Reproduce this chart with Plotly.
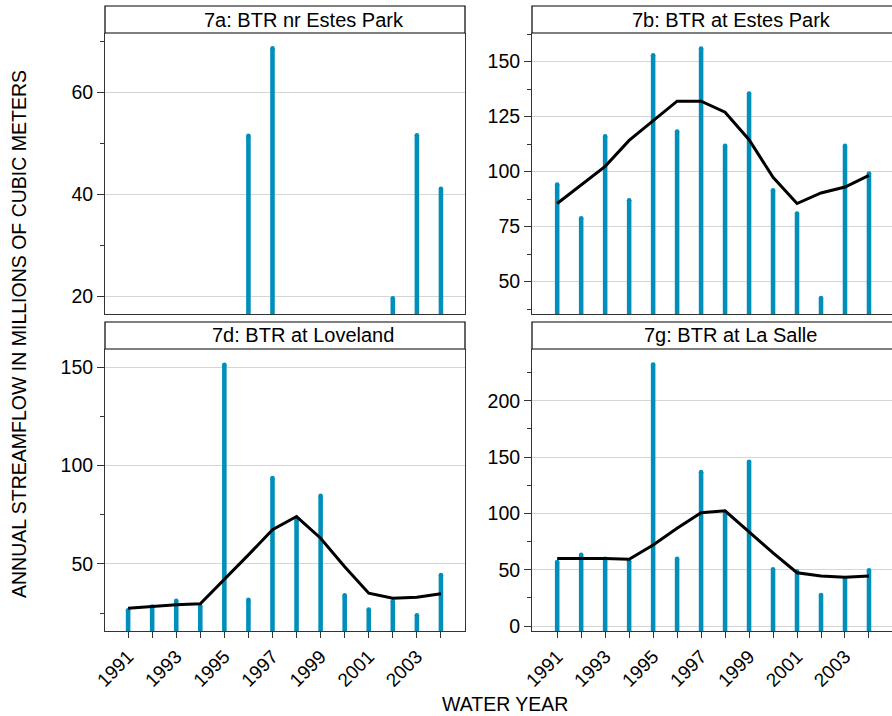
import plotly.graph_objects as go

# ---- data -------------------------------------------------------------
years = list(range(1991, 2005))
year_labels = [str(y) if y % 2 == 1 else "" for y in years]

panel_titles = ["7a: BTR nr Estes Park", "7b: BTR at Estes Park",
                "7d: BTR at Loveland", "7g: BTR at La Salle"]

flow_7a = [None, None, None, None, None, 51.5, 68.7,
           None, None, None, None, 19.6, 51.6, 41.1]

flow_7b = [94.1, 78.8, 116.0, 87.0, 152.9, 118.2, 155.9,
           111.7, 135.5, 91.5, 81.0, 42.6, 111.7, 99.1]
smooth_7b = [85.5, 93.8, 102.4, 114.2, 123.3, 132.0, 132.0,
             127.0, 114.5, 97.4, 85.5, 90.3, 93.0, 98.3]

flow_7d = [26.4, 28.3, 31.3, 28.6, 151.3, 31.8, 93.7,
           72.5, 84.7, 34.1, 26.8, 31.0, 23.9, 44.3]
smooth_7d = [27.5, 28.3, 29.3, 29.7, 41.9, 54.6, 67.4,
             74.1, 63.1, 48.6, 35.1, 32.6, 33.1, 34.8]

flow_7g = [56.8, 63.3, 59.7, 57.4, 232.2, 59.7, 136.6,
           101.2, 145.8, 50.3, 48.5, 27.5, 42.0, 49.4]
smooth_7g = [60.0, 60.0, 60.0, 59.2, 71.9, 86.7, 100.6,
             102.3, 83.7, 65.0, 47.3, 44.4, 43.2, 44.4]

# ---- layout constants (pixels) ---------------------------------------
W, H = 892, 716
FONT = "Liberation Sans, Arial, Helvetica, sans-serif"
BAR_COLOR = "#008fba"
AXIS_COLOR = "#333333"
GRID_COLOR = "#d6d6d6"


def px(x):
    return x / W


def py(y):
    return 1 - y / H


# each panel: x span, plot y span, strip top, x range, y range, major/minor dtick
panels = [
    dict(x=(105, 465), y=(33, 314), strip=6, xr=(1990.04, 2005.0),
         yr=(16.5, 71.7), dt=20, mdt=10, flow=flow_7a, smooth=None,
         title_x=303.5, right_edge=True, bottom=False),
    dict(x=(532, 892), y=(33, 314), strip=6, xr=(1989.95, 2004.96),
         yr=(35.3, 163.0), dt=25, mdt=12.5, flow=flow_7b, smooth=smooth_7b,
         title_x=731, right_edge=False, bottom=False),
    dict(x=(105, 465), y=(349, 631), strip=322, xr=(1990.04, 2005.0),
         yr=(15.9, 159.3), dt=50, mdt=25, flow=flow_7d, smooth=smooth_7d,
         title_x=303, right_edge=True, bottom=True),
    dict(x=(532, 892), y=(349, 631), strip=322, xr=(1989.95, 2004.96),
         yr=(-4.4, 245.9), dt=50, mdt=25, flow=flow_7g, smooth=smooth_7g,
         title_x=730, right_edge=False, bottom=True),
]

fig = go.Figure()
shapes = []
annotations = []

for i, (p, title) in enumerate(zip(panels, panel_titles), start=1):
    xa = "x" if i == 1 else f"x{i}"
    ya = "y" if i == 1 else f"y{i}"
    ymin = p["yr"][0]

    ys = [v for v in p["flow"]]
    fig.add_trace(go.Bar(
        x=years, y=[None if v is None else v - ymin for v in ys],
        base=ymin, width=0.19, marker=dict(color=BAR_COLOR, line=dict(width=0)),
        xaxis=xa, yaxis=ya, hoverinfo="skip", showlegend=False))
    # rounded tops on the spikes
    fig.add_trace(go.Scatter(
        x=years, y=ys, mode="markers",
        marker=dict(color=BAR_COLOR, size=4.6, line=dict(width=0)),
        xaxis=xa, yaxis=ya, hoverinfo="skip", showlegend=False))
    if p["smooth"] is not None:
        fig.add_trace(go.Scatter(
            x=years, y=p["smooth"], mode="lines",
            line=dict(color="black", width=3),
            xaxis=xa, yaxis=ya, hoverinfo="skip", showlegend=False))

    xkey = "xaxis" if i == 1 else f"xaxis{i}"
    ykey = "yaxis" if i == 1 else f"yaxis{i}"
    x_dom = [px(p["x"][0]), px(p["x"][1])]
    y_dom = [py(p["y"][1]), py(p["y"][0])]

    xaxis = dict(domain=x_dom, range=list(p["xr"]), anchor=ya,
                 automargin=False,
                 showgrid=False, zeroline=False, showline=True,
                 linecolor=AXIS_COLOR, linewidth=1, mirror=False,
                 fixedrange=True)
    if p["bottom"]:
        xaxis.update(tickmode="array", tickvals=years, ticktext=year_labels,
                     ticks="outside", ticklen=6, tickcolor=AXIS_COLOR,
                     tickangle=-45,
                     tickfont=dict(family=FONT, size=19, color="black"))
    else:
        xaxis.update(showticklabels=False, ticks="")
    fig.update_layout({xkey: xaxis})

    yaxis = dict(domain=y_dom, range=list(p["yr"]), anchor=xa,
                 automargin=False,
                 tickmode="linear", tick0=0, dtick=p["dt"],
                 ticks="outside", ticklen=7, tickcolor=AXIS_COLOR,
                 showgrid=True, gridcolor=GRID_COLOR, gridwidth=1,
                 zeroline=False, showline=True, linecolor=AXIS_COLOR,
                 linewidth=1, mirror=p["right_edge"],
                 tickfont=dict(family=FONT, size=19.5, color="black"),
                 minor=dict(tickmode="linear", tick0=0, dtick=p["mdt"],
                            ticks="outside", ticklen=4,
                            tickcolor=AXIS_COLOR, showgrid=False),
                 fixedrange=True)
    fig.update_layout({ykey: yaxis})

    # strip above each panel
    x1 = p["x"][1] + (0 if p["right_edge"] else 20)
    shapes.append(dict(type="rect", xref="paper", yref="paper",
                       x0=px(p["x"][0]), x1=px(x1),
                       y0=py(p["y"][0]), y1=py(p["strip"]),
                       fillcolor="white", line=dict(color="black", width=1.2),
                       layer="above"))
    annotations.append(dict(text=title, xref="paper", yref="paper",
                            x=px(p["title_x"]),
                            y=py((p["strip"] + p["y"][0]) / 2),
                            xanchor="center", yanchor="middle",
                            showarrow=False,
                            font=dict(family=FONT, size=20, color="black")))

annotations.append(dict(text="ANNUAL STREAMFLOW IN MILLIONS OF CUBIC METERS",
                        xref="paper", yref="paper", x=px(19), y=py(334),
                        xanchor="center", yanchor="middle", textangle=-90,
                        showarrow=False,
                        font=dict(family=FONT, size=19.5, color="black")))
annotations.append(dict(text="WATER YEAR", xref="paper", yref="paper",
                        x=px(505), y=py(704), xanchor="center",
                        yanchor="middle", showarrow=False,
                        font=dict(family=FONT, size=19.5, color="black")))

fig.update_layout(width=W, height=H, margin=dict(l=0, r=0, t=0, b=0),
                  paper_bgcolor="white", plot_bgcolor="white",
                  barmode="overlay", showlegend=False,
                  shapes=shapes, annotations=annotations)

fig.write_html("out.html")
